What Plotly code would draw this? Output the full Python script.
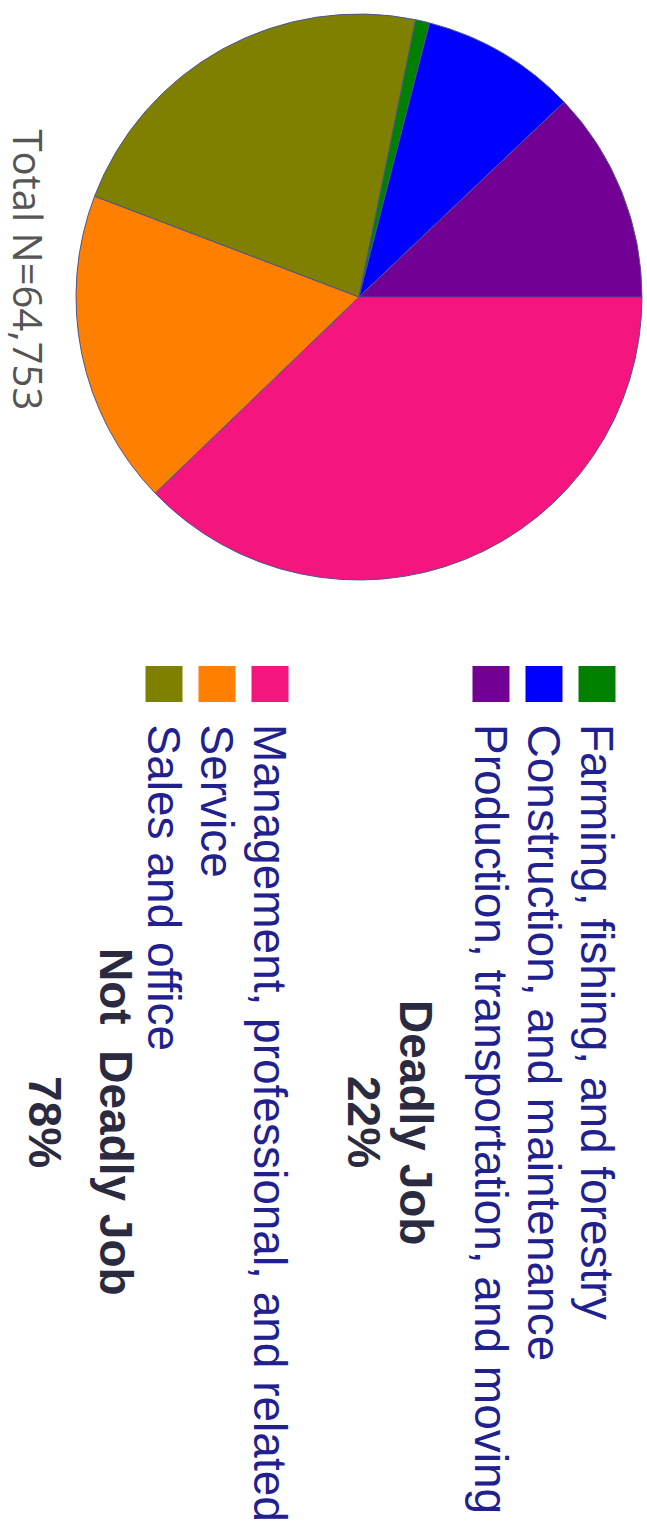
import plotly.graph_objects as go

# Occupation groups (counts of workers)
deadly_labels = ["Farming, fishing, and forestry",
                 "Construction, and maintenance",
                 "Production, transportation, and moving"]
deadly_counts = [520, 5760, 7830]
deadly_colors = ["#008000", "#0000ff", "#730094"]

safe_labels = ["Management, professional, and related",
               "Service",
               "Sales and office"]
safe_counts = [24480, 11650, 14513]
safe_colors = ["#f5157f", "#ff8000", "#808000"]

group_titles = ["Deadly Job", "Not  Deadly Job"]

W, H = 647, 1530
total = sum(deadly_counts) + sum(safe_counts)
deadly_pct = round(100 * sum(deadly_counts) / total)
safe_pct = round(100 * sum(safe_counts) / total)

# slice order going clockwise from 3 o'clock
pie_labels = safe_labels + deadly_labels
pie_values = safe_counts + deadly_counts
pie_colors = safe_colors + deadly_colors


def px(x):
    return x / W


def py(y):
    return 1 - y / H


fig = go.Figure()
fig.add_trace(go.Pie(
    labels=pie_labels, values=pie_values,
    marker=dict(colors=pie_colors, line=dict(color="#4a5590", width=1)),
    sort=False, direction="clockwise", rotation=90,
    textinfo="none", hoverinfo="label+percent", showlegend=False,
    domain=dict(x=[px(76), px(642)], y=[py(580), py(14)]),
))

shapes = []
annotations = []

legend_font = dict(family="Liberation Sans, Arial, sans-serif", size=46, color="#20208f")
title_font = dict(family="Liberation Sans, Arial, sans-serif", size=46, color="#2a2a40")

# rotated legend: swatches + labels
deadly_x = [597, 544, 491]
safe_x = [270, 217, 164]
for labels, colors, xs in [(deadly_labels, deadly_colors, deadly_x),
                           (safe_labels, safe_colors, safe_x)]:
    for lab, col, cx in zip(labels, colors, xs):
        shapes.append(dict(type="rect", xref="paper", yref="paper",
                           x0=px(cx - 18.5), x1=px(cx + 18.5),
                           y0=py(702), y1=py(666),
                           fillcolor=col, line=dict(width=0)))
        annotations.append(dict(text=lab, x=px(cx), y=py(722),
                                xref="paper", yref="paper",
                                xanchor="center", yanchor="top",
                                textangle=90, showarrow=False,
                                font=legend_font))

# group headings
for txt, cx in [("<b>%s</b>" % group_titles[0], 416),
                ("<b>%d%%</b>" % deadly_pct, 364),
                ("<b>%s</b>" % group_titles[1], 116),
                ("<b>%d%%</b>" % safe_pct, 45)]:
    annotations.append(dict(text=txt, x=px(cx), y=py(1122),
                            xref="paper", yref="paper",
                            xanchor="center", yanchor="middle",
                            textangle=90, showarrow=False, font=title_font))

annotations.append(dict(text="Total N={:,}".format(total), x=0, y=py(270),
                        xref="paper", yref="paper",
                        xanchor="left", yanchor="middle",
                        textangle=90, showarrow=False, borderpad=0,
                        font=dict(family="Open Sans, sans-serif", size=40, color="#555555")))

fig.update_layout(
    width=W, height=H,
    margin=dict(l=0, r=0, t=0, b=0),
    paper_bgcolor="white", plot_bgcolor="white",
    shapes=shapes, annotations=annotations,
)

fig.write_html("out.html", config={"displayModeBar": False})
